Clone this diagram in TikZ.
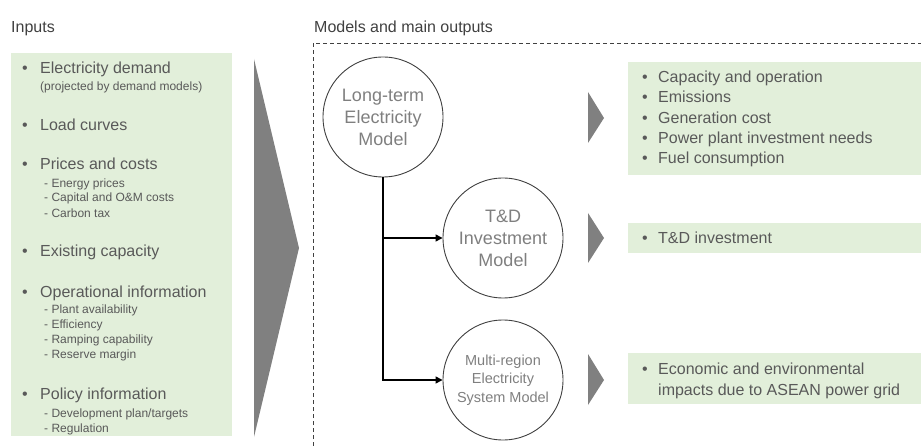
\documentclass[tikz,border=0pt]{standalone}
\usepackage{fontspec}
\setmainfont{Liberation Sans}
\usetikzlibrary{arrows.meta}
\definecolor{boxgreen}{HTML}{E2EFDA}
\definecolor{txt}{HTML}{595959}
\definecolor{ctxt}{HTML}{7F7F7F}
\definecolor{hdr}{HTML}{404040}
\definecolor{arrowgray}{HTML}{808080}
\tikzset{
  hdrtext/.style={anchor=base west, inner sep=0, text=hdr, font=\fontsize{16}{19}\selectfont},
  mainitem/.style={anchor=base west, inner sep=0, text=txt, font=\fontsize{16}{19}\selectfont},
  subitem/.style={anchor=base west, inner sep=0, text=txt, font=\fontsize{12}{15}\selectfont},
  outitem/.style={anchor=base west, inner sep=0, text=txt, font=\fontsize{16}{19}\selectfont},
  greenbox/.style={fill=boxgreen, draw=none},
  bigmodel/.style={circle, draw=hdr, line width=0.9pt, minimum size=120pt, inner sep=0, align=center, text=ctxt, font=\fontsize{18}{22}\selectfont},
  smallmodel/.style={circle, draw=hdr, line width=0.9pt, minimum size=120pt, inner sep=0, align=center, text=ctxt, font=\fontsize{14.5}{18.5}\selectfont},
  link/.style={line width=1.3pt, draw=black},
  chev/.style={fill=arrowgray, draw=none},
}
\newcommand{\bul}[1]{\makebox[#1][l]{•}}
\begin{document}
\begin{tikzpicture}[x=1pt,y=-1pt]
\useasboundingbox (0,0) rectangle (921,446);
% headers
\node[hdrtext] (hin) at (11,33) {Inputs};
\node[hdrtext] (hmod) at (314,33) {Models and main outputs};
% left input box
\fill[greenbox] (11,53) rectangle (232,436);
\node[mainitem] (i1) at (22,74) {\bul{18pt}Electricity demand};
\node[subitem] (i1a) at (40,90.5) {(projected by demand models)};
\node[mainitem] (i2) at (22,131) {\bul{18pt}Load curves};
\node[mainitem] (i3) at (22,170) {\bul{18pt}Prices and costs};
\node[subitem] (i3a) at (44,187.5) {- Energy prices};
\node[subitem] (i3b) at (44,202) {- Capital and O\&M costs};
\node[subitem] (i3c) at (44,217.5) {- Carbon tax};
\node[mainitem] (i4) at (22,257) {\bul{18pt}Existing capacity};
\node[mainitem] (i5) at (22,298) {\bul{18pt}Operational information};
\node[subitem] (i5a) at (44,313.5) {- Plant availability};
\node[subitem] (i5b) at (44,328.5) {- Efficiency};
\node[subitem] (i5c) at (44,343.5) {- Ramping capability};
\node[subitem] (i5d) at (44,359) {- Reserve margin};
\node[mainitem] (i6) at (22,399) {\bul{18pt}Policy information};
\node[subitem] (i6a) at (44,417.5) {- Development plan/targets};
\node[subitem] (i6b) at (44,432.5) {- Regulation};
% big arrow
\fill[chev] (254,59) -- (299,248) -- (254,437) -- cycle;
% dashed frame
\draw[hdr, line width=0.9pt, dash pattern=on 4pt off 3pt] (313,446) -- (313,43) -- (921,43);
% models
\node[bigmodel] (m1) at (383,117) {Long-term\\Electricity\\Model};
\node[bigmodel] (m2) at (503,238) {T\&D\\Investment\\Model};
\node[smallmodel] (m3) at (503,380) {Multi-region\\Electricity\\System Model};
\coordinate (j3) at (m1.south |- m3.west);
\draw[link, -{Triangle[length=7pt,width=7pt]}] (m1.south) -- (j3) -- (m3.west);
\draw[link, -{Triangle[length=7pt,width=7pt]}] (m1.south |- m2.west) -- (m2.west);
% output chevrons
\fill[chev] (588,92) -- (604,118) -- (588,143) -- cycle;
\fill[chev] (588,213) -- (604,238) -- (588,263) -- cycle;
\fill[chev] (588,354) -- (604,380) -- (588,405) -- cycle;
% output boxes
\fill[greenbox] (628,62) rectangle (921,175);
\fill[greenbox] (628,223) rectangle (921,253);
\fill[greenbox] (628,353) rectangle (921,404);
\node[outitem] (o1) at (642,83) {\bul{16pt}Capacity and operation};
\node[outitem] (o2) at (642,103) {\bul{16pt}Emissions};
\node[outitem] (o3) at (642,123.5) {\bul{16pt}Generation cost};
\node[outitem] (o4) at (642,144) {\bul{16pt}Power plant investment needs};
\node[outitem] (o5) at (642,164) {\bul{16pt}Fuel consumption};
\node[outitem] (o6) at (642,244) {\bul{16pt}T\&D investment};
\node[outitem] (o7) at (642,374) {\bul{16pt}Economic and environmental};
\node[outitem] (o8) at (658,395) {impacts due to ASEAN power grid};
\end{tikzpicture}
\end{document}
